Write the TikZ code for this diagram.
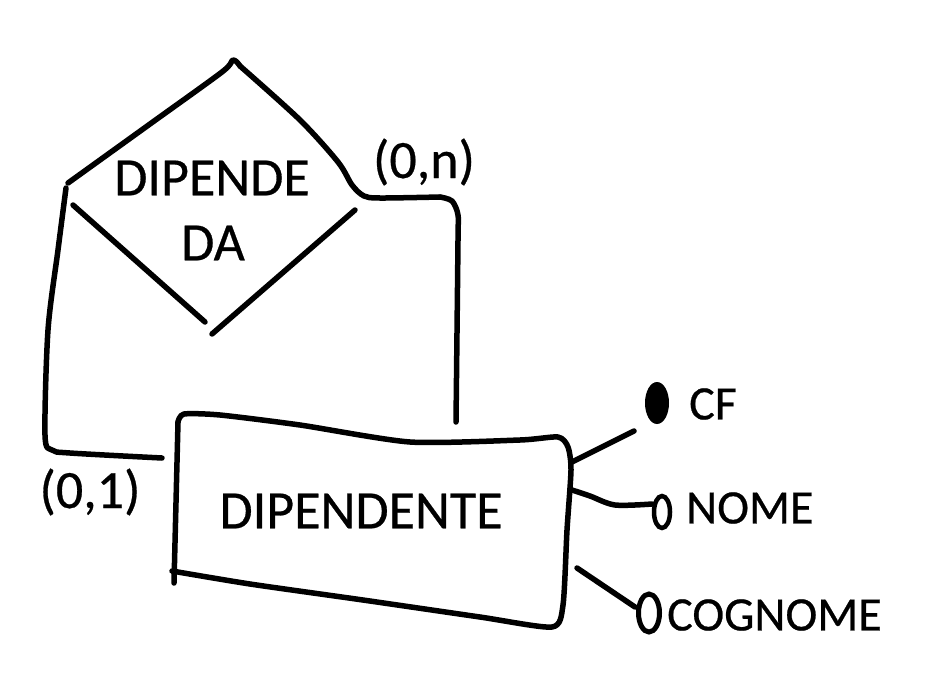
\documentclass[tikz,border=0pt]{standalone}
\usepackage{fontspec}
\setmainfont{Carlito}
\newfontfamily\heavyfont[FakeBold=0.5]{Carlito}
\begin{document}
\begin{tikzpicture}[x=1pt,y=-1pt,
  ink/.style={line width=5.5pt,line cap=round,line join=round},
  lbl/.style={inner sep=0pt,font=\heavyfont\fontsize{54}{62}\selectfont},
  small/.style={inner sep=0pt,font=\heavyfont\fontsize{48}{56}\selectfont}]
\useasboundingbox[fill=white] (0,0) rectangle (933,696);
% relationship diamond (hand drawn, open at corners)
\draw[ink] plot[smooth,tension=0.5] coordinates {(68,183) (150,124) (222,72) (233,60) (240,66)};
\draw[ink] plot[smooth,tension=0.5] coordinates {(240,66) (300,120) (338,162) (352,185) (364,196) (380,198) (440,197)};
\draw[ink] (73,205) -- (205,322);
\draw[ink] (212,334) -- (355,210);
\node[lbl] (rel1) at (212,178) {DIPENDE};
\node[lbl] (rel2) at (213,243) {DA};
% entity rectangle
\draw[ink] plot[smooth,tension=0.4] coordinates {(178,422) (184,414) (220,415) (300,425) (410,442) (520,440) (558,437) (568,447) (571,470) (567,530) (563,605) (552,627) (480,617) (363,600) (250,584) (172,571)};
\draw[ink] (178,422) -- (174,583);
\node[lbl] (ent) at (361,511) {DIPENDENTE};
% connectors
\coordinate (r1) at (440,197);
\coordinate (e1) at (456,422);
\draw[ink] plot[smooth,tension=0.5] coordinates {(r1) (452,201) (458,215) (458,240) (e1)};
\coordinate (r2) at (66,188);
\coordinate (e2) at (162,458);
\draw[ink] plot[smooth,tension=0.5] coordinates {(r2) (58,250) (48,330) (45,435) (52,450) (70,453) (e2)};
\node[lbl] (c1) at (90,492) {(0,1)};
\node[lbl] (cn) at (424,162) {(0,n)};
% attributes
\fill (657,403) ellipse[x radius=12,y radius=21];
\draw[line width=4.5pt] (662,512) ellipse[x radius=8,y radius=16];
\draw[line width=5pt] (649,613) ellipse[x radius=10.5,y radius=19];
\coordinate (a1) at (634,431);
\coordinate (a2) at (652,504);
\coordinate (a3) at (635,607);
\draw[ink] (572,462) -- (a1);
\draw[ink] plot[smooth,tension=0.5] coordinates {(572,490) (590,496) (615,505) (a2)};
\draw[ink] (577,568) -- (a3);
\node[small,anchor=west] (cf) at (689,404) {CF};
\node[small,anchor=west] (nome) at (686,508) {NOME};
\node[small,anchor=west] (cog) at (667,615) {COGNOME};
\end{tikzpicture}
\end{document}
